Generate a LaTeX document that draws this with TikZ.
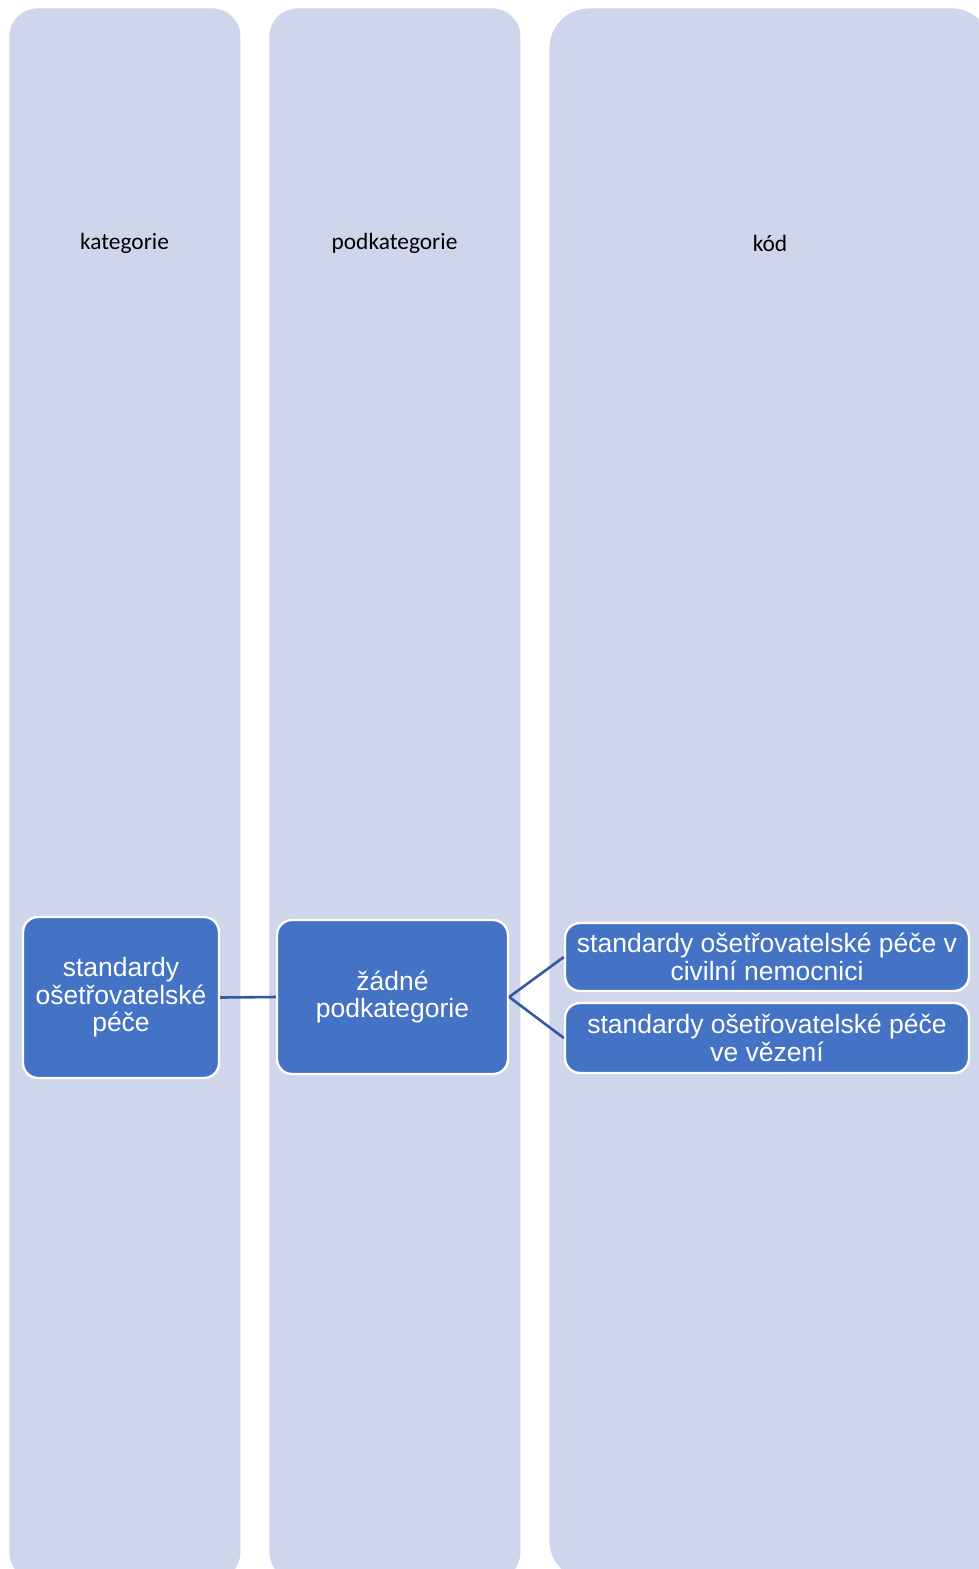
\documentclass[tikz,border=0pt]{standalone}
\usepackage{fontspec}
\setmainfont{Liberation Sans}
\newfontfamily\hdrfont{Carlito}
\definecolor{colfill}{HTML}{CFD5EA}
\definecolor{boxfill}{HTML}{4472C4}
\definecolor{linkcol}{HTML}{3458A4}
\tikzset{
  column/.style={fill=colfill, draw=none, anchor=north west, inner sep=0pt},
  header/.style={font=\hdrfont\fontsize{11.7pt}{14pt}\selectfont, text=black, inner sep=0pt},
  itembox/.style={fill=boxfill, draw=white, line width=1.2pt, rounded corners=7.5pt,
    text=white, align=center, inner sep=0pt,
    font=\fontsize{13.25pt}{13.75pt}\selectfont},
  link/.style={draw=linkcol, line width=1.3pt},
}
\begin{document}
\begin{tikzpicture}[x=0.5pt, y=-0.5pt]
\useasboundingbox (0,0) rectangle (979,1569);
\clip (0,0) rectangle (979,1569);
% columns
\node[column, minimum width=115.5pt, minimum height=786pt, rounded corners=14pt] (c1) at (9,8) {};
\node[column, minimum width=125.5pt, minimum height=786pt, rounded corners=14pt] (c2) at (269,8) {};
\node[column, minimum width=221pt, minimum height=786pt, rounded corners=20pt] (c3) at (549,8) {};
% headers
\node[header] (h1) at (124.5,243) {kategorie};
\node[header] (h2) at (394.5,243) {podkategorie};
\node[header] (h3) at (770,243) {kód};
% boxes
\node[itembox, minimum width=98pt, minimum height=80.5pt] (b1) at (121,997.5) {standardy\\ošetřovatelské\\péče};
\node[itembox, minimum width=115.5pt, minimum height=77pt] (b2) at (392.5,997) {žádné\\podkategorie};
\node[itembox, minimum width=202pt, minimum height=34pt] (b3) at (767,957) {standardy ošetřovatelské péče v\\civilní nemocnici};
\node[itembox, minimum width=202pt, minimum height=35pt] (b4) at (767,1038) {standardy ošetřovatelské péče\\ve vězení};
% connectors
\draw[link] (b1.east) -- (b2.west);
\draw[link] (b2.east) -- (b3.west);
\draw[link] (b2.east) -- (b4.west);
\end{tikzpicture}
\end{document}
